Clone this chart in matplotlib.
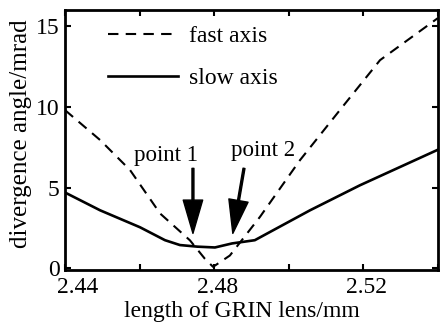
import matplotlib
matplotlib.use("Agg")
import matplotlib.pyplot as plt
import matplotlib.transforms as mtransforms

# data
fast_x = [2.4400, 2.4494, 2.4574, 2.4655, 2.4735, 2.4775, 2.4797, 2.4842,
          2.4923, 2.5030, 2.5137, 2.5245, 2.5400]
fast_y = [9.8, 7.95, 6.1, 3.4, 1.74, 0.6, 0.1, 0.8, 3.2, 6.7, 9.8, 12.9, 15.5]

slow_x = [2.4400, 2.4494, 2.4601, 2.4668, 2.4708, 2.4755, 2.4802, 2.4848,
          2.4909, 2.5057, 2.5191, 2.5400]
slow_y = [4.7, 3.6, 2.55, 1.75, 1.45, 1.35, 1.3, 1.55, 1.75, 3.6, 5.15, 7.35]

xticks = [2.44, 2.46, 2.48, 2.50, 2.52, 2.54]
xticklabels = ['2.44', '', '2.48', '', '2.52', '']
yticks = [0, 5, 10, 15]

# arrow tips / tails and label spots
p1_tip, p1_tail, p1_text = (2.4743, 2.17), (2.4743, 6.2), (2.4671, 7.0)
p2_tip, p2_tail, p2_text = (2.4850, 2.17), (2.4880, 6.2), (2.4931, 7.33)

plt.rcParams['font.family'] = ['Liberation Serif', 'DejaVu Serif']
plt.rcParams['font.size'] = 17

fig = plt.figure(figsize=(4.4, 3.25), dpi=100)
ax = fig.add_axes([0.148, 0.169, 0.847, 0.80])

ax.plot(fast_x, fast_y, 'k--', lw=1.5, dashes=(5, 3.5), label='fast axis')
ax.plot(slow_x, slow_y, 'k-', lw=1.9, label='slow axis')

ax.set_xlim(2.44, 2.54)
ax.set_ylim(-0.1, 16)
ax.set_xticks(xticks)
ax.set_xticklabels(xticklabels)
ax.set_yticks(yticks)
ax.tick_params(direction='in', top=True, right=True, length=4, width=1.5)
ax.tick_params(axis='x', pad=5)
ax.tick_params(axis='y', pad=4)
for s in ax.spines.values():
    s.set_linewidth(2)

# x labels sit a little right of their ticks, the first one well right
for i, lbl in enumerate(ax.get_xticklabels()):
    dx = 13 if i == 0 else 3
    lbl.set_transform(lbl.get_transform() +
                      mtransforms.ScaledTranslation(dx / 100, 0, fig.dpi_scale_trans))

ax.set_xlabel('length of GRIN lens/mm', fontsize=17)
ax.xaxis.set_label_coords(0.473, -0.118)
ax.set_ylabel('divergence angle/mrad', fontsize=18)
ax.yaxis.set_label_coords(-0.088, 0.523)

ax.legend(loc='upper left', frameon=False, handlelength=2.95, borderaxespad=0,
          borderpad=0, bbox_to_anchor=(0.115, 0.94), labelspacing=0.85,
          fontsize=17, handletextpad=0.5)

arrow = dict(facecolor='black', edgecolor='black', width=1.4, headwidth=14,
             headlength=24, shrink=0)
ax.annotate('', xy=p1_tip, xytext=p1_tail, arrowprops=arrow)
ax.annotate('', xy=p2_tip, xytext=p2_tail, arrowprops=arrow)
ax.text(*p1_text, 'point 1', ha='center', va='center', fontsize=16.5)
ax.text(*p2_text, 'point 2', ha='center', va='center', fontsize=16.5)

fig.savefig('out.png', dpi=100)
